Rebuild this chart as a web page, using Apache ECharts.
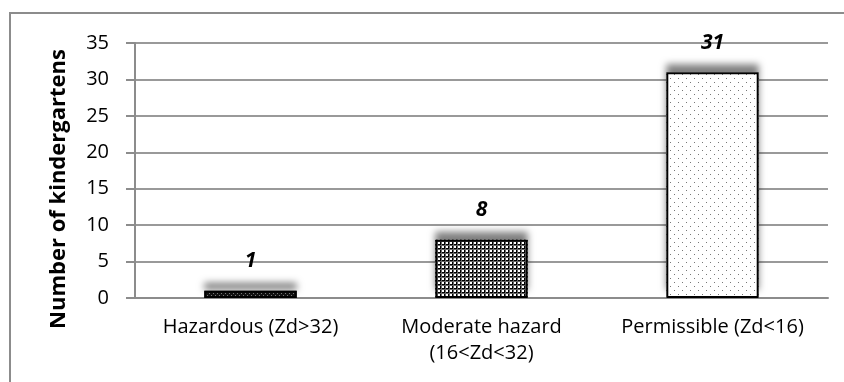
<!DOCTYPE html>
<html>
<head>
<meta charset="utf-8">
<script src="https://cdn.jsdelivr.net/npm/echarts@6/dist/echarts.min.js"></script>
<style>
  html, body { margin: 0; padding: 0; background: #fff; }
  #chart { width: 844px; height: 382px; }
</style>
</head>
<body>
<div id="chart"></div>
<script>
// Kindergartens grouped by hazard class of the Zd index
const categories = ['Hazardous (Zd>32)', 'Moderate hazard\n(16<Zd<32)', 'Permissible (Zd<16)'];
const counts = [1, 8, 31];
const yTicks = { min: 0, max: 35, interval: 5 };
const yTitle = 'Number of kindergartens';

// Small tiles used as fill patterns for each bar
function makeTile(w, h, draw) {
  const c = document.createElement('canvas');
  c.width = w; c.height = h;
  const ctx = c.getContext('2d');
  ctx.fillStyle = '#fff';
  ctx.fillRect(0, 0, w, h);
  draw(ctx);
  return c;
}
// dense dark checker
const tileDark = makeTile(4, 4, ctx => {
  ctx.fillStyle = '#111';
  ctx.fillRect(0, 0, 4, 4);
  ctx.fillStyle = '#777';
  ctx.fillRect(1, 1, 1, 1);
  ctx.fillRect(3, 3, 1, 1);
});
// square grid
const tileGrid = makeTile(4, 4, ctx => {
  ctx.fillStyle = '#000';
  ctx.fillRect(0, 0, 4, 1);
  ctx.fillRect(0, 0, 1, 4);
  ctx.fillStyle = '#666';
  ctx.fillRect(0, 1, 4, 1);
  ctx.fillRect(1, 0, 1, 4);
});
// sparse staggered dots
const tileDots = makeTile(8, 8, ctx => {
  ctx.fillStyle = '#777';
  ctx.fillRect(2, 2, 1, 1);
  ctx.fillRect(6, 6, 1, 1);
});
const fills = [tileDark, tileGrid, tileDots];

const chart = echarts.init(document.getElementById('chart'), null, { renderer: 'canvas' });
const font = '"Open Sans", "Liberation Sans", sans-serif';

chart.setOption({
  animation: false,
  backgroundColor: '#fff',
  grid: { left: 135, right: 16, top: 43, bottom: 84, containLabel: false },
  xAxis: {
    type: 'category',
    data: categories,
    axisLine: { lineStyle: { color: '#8c8c8c', width: 2 } },
    axisTick: { show: false },
    axisLabel: {
      margin: 16,
      color: '#000',
      fontFamily: font,
      fontSize: 20,
      lineHeight: 26,
      interval: 0
    }
  },
  yAxis: {
    type: 'value',
    min: yTicks.min,
    max: yTicks.max,
    interval: yTicks.interval,
    axisLine: { show: true, lineStyle: { color: '#8c8c8c', width: 2 } },
    axisTick: { show: true, length: 9, lineStyle: { color: '#8c8c8c', width: 2 } },
    splitLine: { lineStyle: { color: '#999', width: 2 } },
    axisLabel: {
      margin: 26,
      color: '#000',
      fontFamily: font,
      fontSize: 20
    }
  },
  series: [
    {
      // patterned fill with the soft shadow above each bar
      type: 'bar',
      barWidth: '40%',
      barGap: '-100%',
      z: 2,
      data: counts.map((v, i) => ({
        value: v,
        itemStyle: { color: { image: fills[i], repeat: 'repeat' } }
      })),
      itemStyle: {
        borderWidth: 0,
        shadowColor: 'rgba(0,0,0,0.5)',
        shadowBlur: 7,
        shadowOffsetY: -8
      }
    },
    {
      // black outline and value label
      type: 'bar',
      barWidth: '40%',
      barGap: '-100%',
      z: 3,
      data: counts,
      itemStyle: {
        color: 'rgba(0,0,0,0)',
        borderColor: '#000',
        borderWidth: 2
      },
      label: {
        show: true,
        position: 'top',
        distance: 19,
        color: '#000',
        fontFamily: font,
        fontSize: 21,
        fontWeight: 'bold',
        fontStyle: 'italic'
      }
    }
  ],
  graphic: [
    {
      type: 'polyline',
      shape: { points: [[10, 382], [10, 13], [844, 13]] },
      style: { stroke: '#8c8c8c', lineWidth: 2, fill: null },
      silent: true
    },
    {
      type: 'text',
      x: 59,
      y: 189,
      rotation: Math.PI / 2,
      style: {
        text: yTitle,
        fill: '#000',
        font: 'bold 22px ' + font,
        align: 'center',
        verticalAlign: 'middle'
      }
    }
  ]
});
</script>
</body>
</html>
